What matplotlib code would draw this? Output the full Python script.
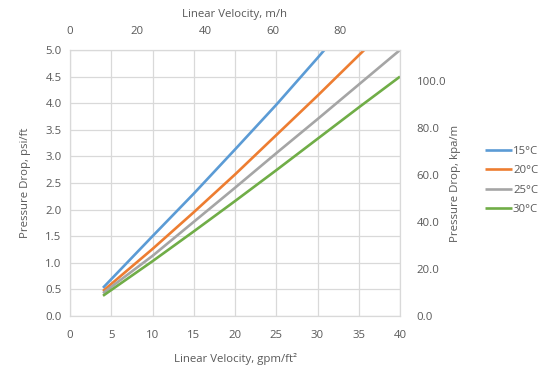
import numpy as np
import matplotlib.pyplot as plt

plt.rcParams['font.family'] = ['Open Sans', 'DejaVu Sans']

# linear velocity, gpm/ft2
velocity = [4, 10, 15, 20, 25, 30, 35, 40]
# pressure drop, psi/ft
dp_15 = [0.53, 1.50, 2.30, 3.13, 3.97, 4.85, 5.75, 6.65]
dp_20 = [0.47, 1.26, 1.95, 2.66, 3.40, 4.14, 4.90, 5.65]
dp_25 = [0.43, 1.13, 1.77, 2.41, 3.06, 3.70, 4.35, 5.00]
dp_30 = [0.38, 1.03, 1.59, 2.16, 2.74, 3.33, 3.92, 4.50]
labels = ['15°C', '20°C', '25°C', '30°C']
colors = ['#5B9BD5', '#ED7D31', '#A5A5A5', '#70AD47']

GPM_TO_MH = 2.445      # gpm/ft2 -> m/h
PSI_TO_KPA = 22.62     # psi/ft -> kPa/m

txt = '#595959'
grid = '#d9d9d9'
fs = 8.2

fig = plt.figure(figsize=(5.48, 3.77), dpi=100)
ax = fig.add_axes([70/548, 61/377, 330/548, 266/377])

for ys, lab, c in zip([dp_15, dp_20, dp_25, dp_30], labels, colors):
    ax.plot(velocity, ys, color=c, lw=1.9, label=lab, solid_capstyle='butt')

ax.set_xlim(0, 40)
ax.set_ylim(0, 5)
ax.set_xticks(np.arange(0, 41, 5))
ax.set_yticks(np.arange(0, 5.01, 0.5))
ax.yaxis.set_major_formatter(plt.FormatStrFormatter('%.1f'))
ax.grid(True, color=grid, lw=0.9)
ax.set_axisbelow(True)
for s in ax.spines.values():
    s.set_color(grid)
    s.set_linewidth(0.9)
ax.tick_params(axis='x', length=0, labelsize=fs, colors=txt, pad=10)
ax.tick_params(axis='y', length=0, labelsize=fs, colors=txt, pad=6)
ax.set_xlabel('Linear Velocity, gpm/ft²', fontsize=fs, color=txt, labelpad=9)
ax.set_ylabel('Pressure Drop, psi/ft', fontsize=fs, color=txt, labelpad=10)

top = ax.secondary_xaxis('top', functions=(lambda x: x * GPM_TO_MH, lambda x: x / GPM_TO_MH))
top.set_xticks(np.arange(0, 81, 20))
top.tick_params(length=0, labelsize=fs, colors=txt, pad=9)
top.spines['top'].set_visible(False)
top.set_xlabel('Linear Velocity, m/h', fontsize=fs, color=txt, labelpad=7)

right = ax.secondary_yaxis('right', functions=(lambda y: y * PSI_TO_KPA, lambda y: y / PSI_TO_KPA))
right.set_yticks(np.arange(0, 101, 20))
right.yaxis.set_major_formatter(plt.FormatStrFormatter('%.1f'))
right.tick_params(length=0, labelsize=fs, colors=txt, pad=12)
right.spines['right'].set_visible(False)
right.set_ylabel('Pressure Drop, kpa/m', fontsize=fs, color=txt, labelpad=3)

leg = ax.legend(loc='center left', bbox_to_anchor=(1.225, 0.51), frameon=False,
                fontsize=fs, handlelength=2.4, handletextpad=0.1, labelspacing=0.75)
for t in leg.get_texts():
    t.set_color(txt)

fig.savefig('out.png', dpi=100)
